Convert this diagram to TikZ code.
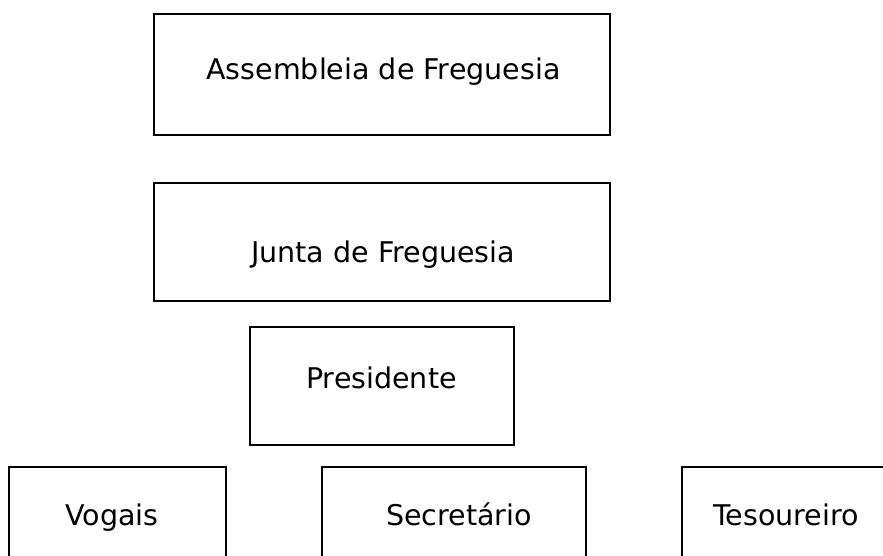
\documentclass[tikz,border=0pt]{standalone}
\usepackage{fontspec}
\setmainfont{DejaVu Sans}
\begin{document}
\begin{tikzpicture}[x=1pt,y=-1pt,
  box/.style={draw, line width=2pt, anchor=north west, inner sep=0pt},
  lbl/.style={anchor=base, inner sep=0pt, font=\fontsize{28.5}{32}\selectfont}]
\useasboundingbox (0,0) rectangle (883,556);
\clip (-1,-1) rectangle (884,557);
\node[box, minimum width=456pt, minimum height=121pt] (assembleia) at (153,13) {};
\node[box, minimum width=456pt, minimum height=118pt] (junta) at (153,182) {};
\node[box, minimum width=264pt, minimum height=118pt] (presidente) at (249,326) {};
\node[box, minimum width=217pt, minimum height=130pt] (vogais) at (8,466) {};
\node[box, minimum width=264pt, minimum height=130pt] (secretario) at (321,466) {};
\node[box, minimum width=260pt, minimum height=130pt] (tesoureiro) at (681,466) {};
\node[lbl] (tassembleia) at (383.5,80) {Assembleia de Freguesia};
\node[lbl] (tjunta) at (383,262) {Junta de Freguesia};
\node[lbl] (tpresidente) at (381.5,388) {Presidente};
\node[lbl] (tvogais) at (112,525) {Vogais};
\node[lbl] (tsecretario) at (459,525) {Secretário};
\node[lbl] (ttesoureiro) at (786,525) {Tesoureiro};
\end{tikzpicture}
\end{document}
